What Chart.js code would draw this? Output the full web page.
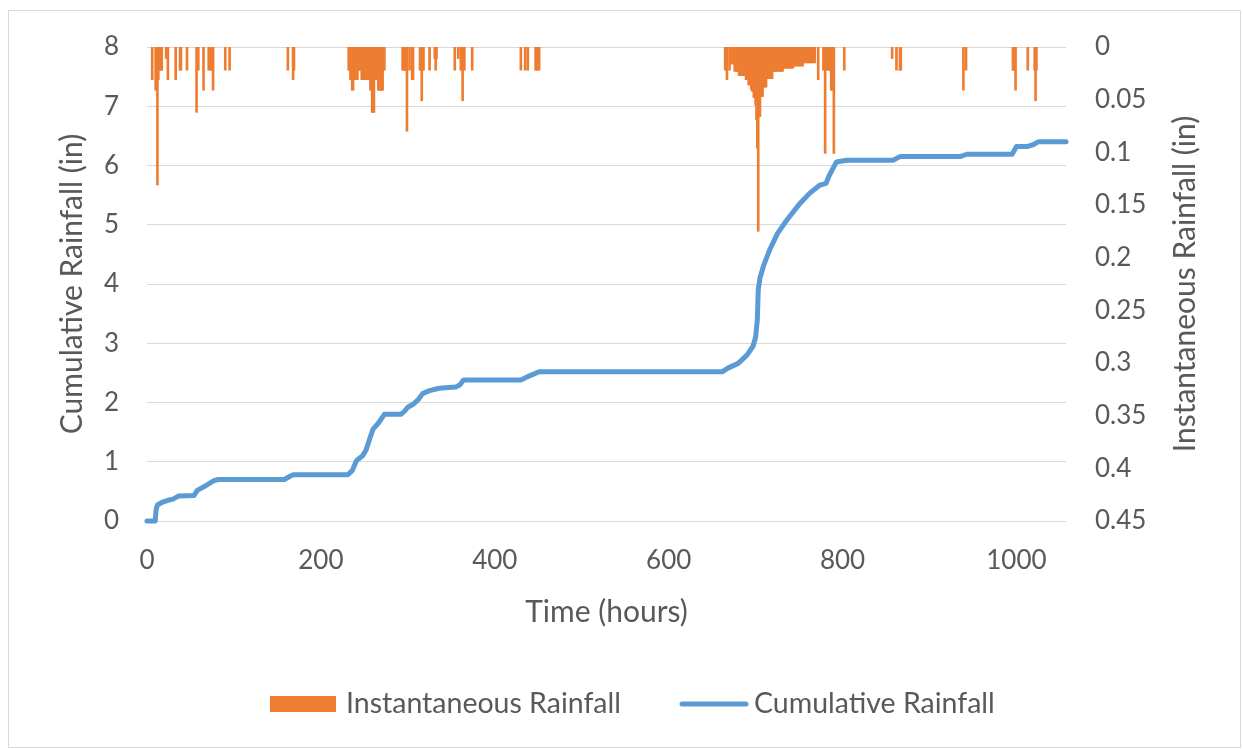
<!DOCTYPE html>
<html>
<head>
<meta charset="utf-8">
<script src="https://cdn.jsdelivr.net/npm/chart.js@4.4.1/dist/chart.umd.min.js"></script>
<style>
  html, body { margin: 0; padding: 0; background: #fff; }
  canvas { display: block; }
</style>
</head>
<body>
<canvas id="rainChart" width="1243" height="749"></canvas>
<script>
// hours with recorded rain (instantaneous, in)
const rainHours = [
  6, 10, 11, 12, 13, 14, 15, 16, 17, 22, 24, 33, 38, 39, 46, 57, 59, 65, 71, 73, 74, 76, 90, 95,
  162, 168, 169,
  232, 233, 234, 235, 236, 237, 238, 239, 240, 241, 242, 243, 244, 245, 246, 247, 248, 249, 250, 251,
  252, 253, 254, 255, 256, 257, 258, 259, 260, 261, 262, 263, 264, 265, 266, 267, 268, 269, 270, 271, 272, 273,
  294, 295, 296, 297, 298, 299, 302, 305, 306, 314, 315, 316, 317, 318, 325, 331, 332, 333,
  354, 358, 361, 362, 363, 364, 365, 374,
  430, 435, 438, 447, 448, 449, 451,
  665, 667, 670,
  672, 673, 674, 675, 676, 677, 678, 679, 680, 681, 682, 683, 684, 685, 686, 687, 688, 689, 690, 691,
  692, 693, 694, 695, 696, 697, 698, 699, 700, 701, 702, 703, 704, 705, 706, 707, 708, 709, 710, 711,
  712, 713, 714, 715, 716, 717, 718, 719, 720, 721, 722, 723, 724, 725, 726, 727, 728, 729, 730, 731,
  732, 733, 734, 735, 736, 737, 738, 739, 740, 741, 742, 743, 744, 745, 746, 747, 748, 749, 750, 751,
  752, 753, 754, 755, 756, 757, 758, 759, 760, 761, 762, 763, 764, 765, 766, 767, 768,
  772, 778, 779, 780, 781, 783, 784, 785, 786, 787, 788, 789, 790, 802,
  857, 862, 866, 867, 939, 942, 996, 997, 998, 999, 1013, 1021, 1022, 1023
];
const rainValues = [
  0.031, 0.041, 0.041, 0.131, 0.031, 0.022, 0.022, 0.022, 0.022, 0.011, 0.031, 0.031, 0.022, 0.022, 0.022, 0.062, 0.022, 0.041, 0.022, 0.022, 0.022, 0.041, 0.022, 0.022,
  0.022, 0.031, 0.022,
  0.022, 0.022, 0.031, 0.022, 0.041, 0.041, 0.022, 0.031, 0.031, 0.031, 0.031, 0.022, 0.022, 0.022, 0.022, 0.031, 0.031, 0.031, 0.031, 0.031,
  0.031, 0.031, 0.031, 0.031, 0.031, 0.041, 0.022, 0.062, 0.062, 0.062, 0.031, 0.031, 0.031, 0.031, 0.041, 0.041, 0.041, 0.041, 0.041, 0.041, 0.022, 0.022,
  0.022, 0.022, 0.022, 0.022, 0.022, 0.080, 0.022, 0.031, 0.031, 0.022, 0.022, 0.051, 0.022, 0.022, 0.022, 0.011, 0.022, 0.011,
  0.022, 0.011, 0.022, 0.022, 0.051, 0.022, 0.022, 0.022,
  0.022, 0.022, 0.022, 0.022, 0.022, 0.022, 0.022,
  0.022, 0.031, 0.022,
  0.016, 0.016, 0.016, 0.016, 0.023, 0.023, 0.023, 0.023, 0.023, 0.027, 0.027, 0.027, 0.027, 0.027, 0.027, 0.027, 0.027, 0.031, 0.031, 0.031,
  0.036, 0.036, 0.036, 0.040, 0.042, 0.042, 0.048, 0.048, 0.055, 0.069, 0.096, 0.175, 0.066, 0.066, 0.047, 0.047, 0.047, 0.038, 0.038, 0.038,
  0.038, 0.030, 0.030, 0.030, 0.030, 0.030, 0.030, 0.030, 0.023, 0.023, 0.023, 0.023, 0.023, 0.023, 0.023, 0.023, 0.023, 0.023, 0.023, 0.023,
  0.020, 0.020, 0.020, 0.020, 0.020, 0.020, 0.020, 0.020, 0.020, 0.020, 0.020, 0.020, 0.018, 0.018, 0.018, 0.018, 0.018, 0.018, 0.018, 0.018,
  0.018, 0.018, 0.018, 0.015, 0.015, 0.015, 0.015, 0.015, 0.015, 0.015, 0.015, 0.015, 0.015, 0.015, 0.015, 0.015, 0.015,
  0.031, 0.022, 0.022, 0.101, 0.022, 0.022, 0.022, 0.022, 0.022, 0.041, 0.041, 0.022, 0.101, 0.022,
  0.011, 0.022, 0.022, 0.022, 0.041, 0.022, 0.022, 0.022, 0.022, 0.041, 0.022, 0.022, 0.051, 0.022
];

// cumulative rainfall (in), read at its break points
const cumHours = [
  0, 9.5, 10.5, 12, 18, 24, 30, 36, 54, 58, 63, 68, 77, 82, 158, 165, 168,
  231, 236, 241, 248, 252, 256, 260, 266, 273, 292, 296, 300, 306, 312, 317, 325, 336, 355, 360, 364,
  430, 440, 451, 662, 668, 680, 690, 697, 700, 702, 703, 705, 709, 716, 725, 736, 751, 762, 774,
  781, 784, 789, 793, 805, 858, 866, 935, 943, 995, 1000, 1012, 1019, 1025, 1057
];
const cumValues = [
  0, 0, 0.2, 0.27, 0.32, 0.35, 0.37, 0.42, 0.43, 0.52, 0.56, 0.6, 0.68, 0.7, 0.7, 0.76, 0.78,
  0.78, 0.85, 1.02, 1.1, 1.2, 1.38, 1.55, 1.65, 1.8, 1.8, 1.85, 1.92, 1.97, 2.05, 2.15, 2.2, 2.24, 2.26, 2.3, 2.38,
  2.38, 2.45, 2.52, 2.52, 2.58, 2.66, 2.8, 2.95, 3.1, 3.4, 3.9, 4.1, 4.3, 4.57, 4.85, 5.08, 5.36, 5.53, 5.67,
  5.7, 5.81, 5.95, 6.06, 6.09, 6.09, 6.15, 6.15, 6.19, 6.19, 6.32, 6.32, 6.35, 6.4, 6.4
];

const xTicks = [0, 200, 400, 600, 800, 1000];
if (rainHours.length !== rainValues.length) console.warn('rain arrays differ', rainHours.length, rainValues.length);
if (cumHours.length !== cumValues.length) console.warn('cum arrays differ', cumHours.length, cumValues.length);

const ORANGE = '#ED7D31';
const BLUE = '#5B9BD5';
const TEXT = '#595959';
const FONT = 'Lato';

const frameAndLegend = {
  id: 'frameAndLegend',
  beforeDraw(chart) {
    const c = chart.ctx;
    c.save();
    c.fillStyle = '#fff';
    c.fillRect(0, 0, chart.width, chart.height);
    c.strokeStyle = '#d9d9d9';
    c.lineWidth = 1;
    c.strokeRect(8.5, 10.5, 1232, 737);
    c.restore();
  },
  afterDraw(chart) {
    const c = chart.ctx;
    const ds = chart.data.datasets;
    c.save();
    c.font = '28.5px ' + FONT;
    c.fillStyle = TEXT;
    c.textBaseline = 'middle';
    // bar key
    c.fillStyle = ds[0].backgroundColor;
    c.fillRect(270, 696, 66, 16);
    c.fillStyle = TEXT;
    c.fillText(ds[0].label, 346, 704);
    // line key
    c.strokeStyle = ds[1].borderColor;
    c.lineWidth = 5;
    c.lineCap = 'round';
    c.beginPath();
    c.moveTo(682, 704);
    c.lineTo(746, 704);
    c.stroke();
    c.fillText(ds[1].label, 754, 704);
    // right axis title, reading bottom to top like the left one
    c.font = '30px ' + FONT;
    c.textAlign = 'center';
    c.translate(1185, (chart.chartArea.top + chart.chartArea.bottom) / 2);
    c.rotate(-Math.PI / 2);
    c.fillText('Instantaneous Rainfall (in)', 0, 0);
    c.restore();
  }
};

new Chart(document.getElementById('rainChart'), {
  data: {
    datasets: [
      {
        type: 'bar',
        label: 'Instantaneous Rainfall',
        data: rainHours.map((h, i) => ({ x: h, y: rainValues[i] })),
        backgroundColor: ORANGE,
        barThickness: 2,
        yAxisID: 'y1',
        order: 2
      },
      {
        type: 'line',
        label: 'Cumulative Rainfall',
        data: cumHours.map((h, i) => ({ x: h, y: cumValues[i] })),
        borderColor: BLUE,
        borderWidth: 5,
        pointRadius: 0,
        tension: 0,
        borderJoinStyle: 'round',
        borderCapStyle: 'round',
        clip: false,
        yAxisID: 'y',
        order: 1
      }
    ]
  },
  options: {
    responsive: false,
    animation: false,
    layout: { padding: { top: 47, bottom: 118, left: 0, right: 0 } },
    scales: {
      x: {
        type: 'linear',
        offset: false,
        min: 0,
        max: 1057,
        afterBuildTicks: s => { s.ticks = xTicks.map(v => ({ value: v })); },
        afterFit: s => { s.height = 110; },
        grid: { display: false, drawTicks: false, offset: false },
        border: { display: false },
        ticks: { color: TEXT, font: { family: FONT, size: 26 }, padding: 24, maxRotation: 0, callback: v => String(v) },
        title: { display: true, text: 'Time (hours)', color: TEXT, font: { family: FONT, size: 30 }, padding: { top: 0, bottom: 1 } }
      },
      y: {
        position: 'left',
        min: 0,
        max: 8,
        afterFit: s => { s.width = 147; },
        grid: { color: '#d9d9d9', lineWidth: 1, drawTicks: false },
        border: { display: false },
        ticks: { stepSize: 1, color: TEXT, font: { family: FONT, size: 26 }, padding: 28 },
        title: { display: true, text: 'Cumulative Rainfall (in)', color: TEXT, font: { family: FONT, size: 30 }, padding: { top: 54, bottom: 0 } }
      },
      y1: {
        position: 'right',
        reverse: true,
        min: 0,
        max: 0.45,
        afterFit: s => { s.width = 177; },
        grid: { display: false, drawTicks: false },
        border: { display: false },
        ticks: {
          stepSize: 0.05,
          color: TEXT,
          font: { family: FONT, size: 26 },
          padding: 29,
          callback: v => String(Number(v.toFixed(2)))
        }
      }
    },
    plugins: { legend: { display: false }, tooltip: { enabled: false } }
  },
  plugins: [frameAndLegend]
});
</script>
</body>
</html>
